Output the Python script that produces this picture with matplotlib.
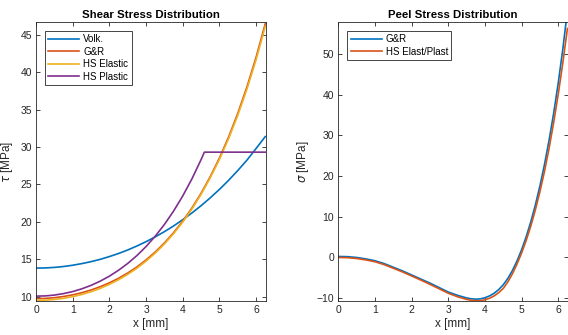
import numpy as np
import matplotlib.pyplot as plt

plt.rcParams['font.family'] = ['Liberation Sans', 'DejaVu Sans']
plt.rcParams['mathtext.fontset'] = 'dejavusans'

# x positions along the overlap [mm]
x = np.arange(0, 6.26, 0.25)

# shear stress [MPa]
tau_volk = [13.80, 13.82, 13.89, 14.01, 14.18, 14.40, 14.66, 14.97, 15.34, 15.75,
            16.22, 16.75, 17.33, 17.97, 18.67, 19.43, 20.27, 21.17, 22.14, 23.19,
            24.32, 25.53, 26.84, 28.23, 29.79, 31.38]
tau_gr = [9.72, 9.75, 9.84, 10.00, 10.22, 10.51, 10.87, 11.31, 11.83, 12.44,
          13.14, 13.95, 14.89, 15.95, 17.16, 18.53, 20.08, 21.83, 23.80, 26.02,
          28.51, 31.32, 34.48, 38.02, 42.00, 46.47]
tau_hs_el = [9.48, 9.51, 9.60, 9.76, 9.98, 10.27, 10.64, 11.08, 11.62, 12.24,
             12.96, 13.78, 14.73, 15.80, 17.02, 18.40, 19.95, 21.70, 23.66, 25.87,
             28.33, 31.10, 34.22, 37.72, 41.66, 46.10]
x_pl = [0, 0.25, 0.5, 0.75, 1.0, 1.25, 1.5, 1.75, 2.0, 2.25, 2.5, 2.75, 3.0,
        3.25, 3.5, 3.75, 4.0, 4.25, 4.5, 4.59, 6.25]
tau_hs_pl = [10.05, 10.08, 10.19, 10.39, 10.66, 11.03, 11.49, 12.05, 12.72, 13.51,
             14.42, 15.47, 16.68, 18.06, 19.63, 21.42, 23.44, 25.72, 28.30, 29.30, 29.30]

# peel stress [MPa], finer spacing where the curve bends
x_peel = [0, 0.25, 0.5, 0.75, 1.0, 1.25, 1.5, 1.75, 2.0, 2.25, 2.5, 2.75, 3.0, 3.25,
          3.5, 3.625, 3.75, 3.875, 4.0, 4.125, 4.25, 4.375, 4.5, 4.625, 4.75, 4.875,
          5.0, 5.125, 5.25, 5.375, 5.5, 5.625, 5.75, 5.875, 6.0, 6.125, 6.25]
sig_gr = [0.25, 0.20, 0.00, -0.35, -0.80, -1.50, -2.40, -3.30, -4.30, -5.30,
          -6.30, -7.40, -8.50, -9.30,
          -9.95, -10.15, -10.25, -10.18, -9.90, -9.45, -8.80, -7.90, -6.70, -5.15,
          -3.20, -0.85, 1.90, 5.10, 8.75, 12.90, 17.60, 22.90, 28.85, 35.50, 42.95,
          51.30, 60.65]
sig_hs = [0.00, -0.05, -0.25, -0.60, -1.05, -1.75, -2.65, -3.55, -4.55, -5.55,
          -6.60, -7.70, -8.80, -9.65,
          -10.30, -10.52, -10.65, -10.62, -10.40, -10.02, -9.45, -8.65, -7.60, -6.00,
          -4.00, -1.60, 1.10, 4.20, 7.70, 11.70, 16.20, 21.20, 26.90, 33.20, 40.20,
          47.90, 56.30]

c_blue, c_red, c_yel, c_pur = '#0072BD', '#D95319', '#EDB120', '#7E2F8E'
gray = '#262626'

fig = plt.figure(figsize=(5.68, 3.35), dpi=100)
ax1 = fig.add_axes([36 / 568, 34 / 335, 230 / 568, 279 / 335])
ax2 = fig.add_axes([338.3 / 568, 34 / 335, 229.5 / 568, 279 / 335])

lw = 1.2
ax1.plot(x, tau_volk, color=c_blue, lw=lw, label='Volk.')
ax1.plot(x, tau_gr, color=c_red, lw=lw, label='G&R')
ax1.plot(x, tau_hs_el, color=c_yel, lw=lw, label='HS Elastic')
ax1.plot(x_pl, tau_hs_pl, color=c_pur, lw=lw, label='HS Plastic')
ax1.set_xlim(0, 6.27)
ax1.set_ylim(9.4, 46.7)
ax1.set_xticks(range(0, 7))
ax1.set_yticks(range(10, 46, 5))
ax1.set_title('Shear Stress Distribution', fontsize=8.2, fontweight='bold', pad=3)
ax1.set_xlabel('x [mm]', fontsize=8.5, color=gray, labelpad=2)
ax1.set_ylabel(r'$\tau$ [MPa]', fontsize=8.5, color=gray, labelpad=4)

ax2.plot(x_peel, sig_gr, color=c_blue, lw=lw, label='G&R')
ax2.plot(x_peel, sig_hs, color=c_red, lw=lw, label='HS Elast/Plast')
ax2.set_xlim(0, 6.26)
ax2.set_ylim(-10.7, 57.9)
ax2.set_xticks(range(0, 7))
ax2.set_yticks(range(-10, 51, 10))
ax2.set_title('Peel Stress Distribution', fontsize=8.2, fontweight='bold', pad=3)
ax2.set_xlabel('x [mm]', fontsize=8.5, color=gray, labelpad=2)
ax2.set_ylabel(r'$\sigma$ [MPa]', fontsize=8.5, color=gray, labelpad=4)

for ax in (ax1, ax2):
    ax.tick_params(direction='in', length=3, width=0.6, top=True, right=True,
                   labelsize=7.5, colors=gray, pad=3)
    for s in ax.spines.values():
        s.set_linewidth(0.6)
        s.set_color(gray)
    leg = ax.legend(loc='upper left', bbox_to_anchor=(0.039, 0.968), borderaxespad=0,
                    fontsize=7, handlelength=3.2, handletextpad=0.4, labelspacing=0.25,
                    borderpad=0.35, fancybox=False, framealpha=1)
    leg.get_frame().set_edgecolor(gray)
    leg.get_frame().set_linewidth(0.6)

fig.savefig('out.png', dpi=100)
